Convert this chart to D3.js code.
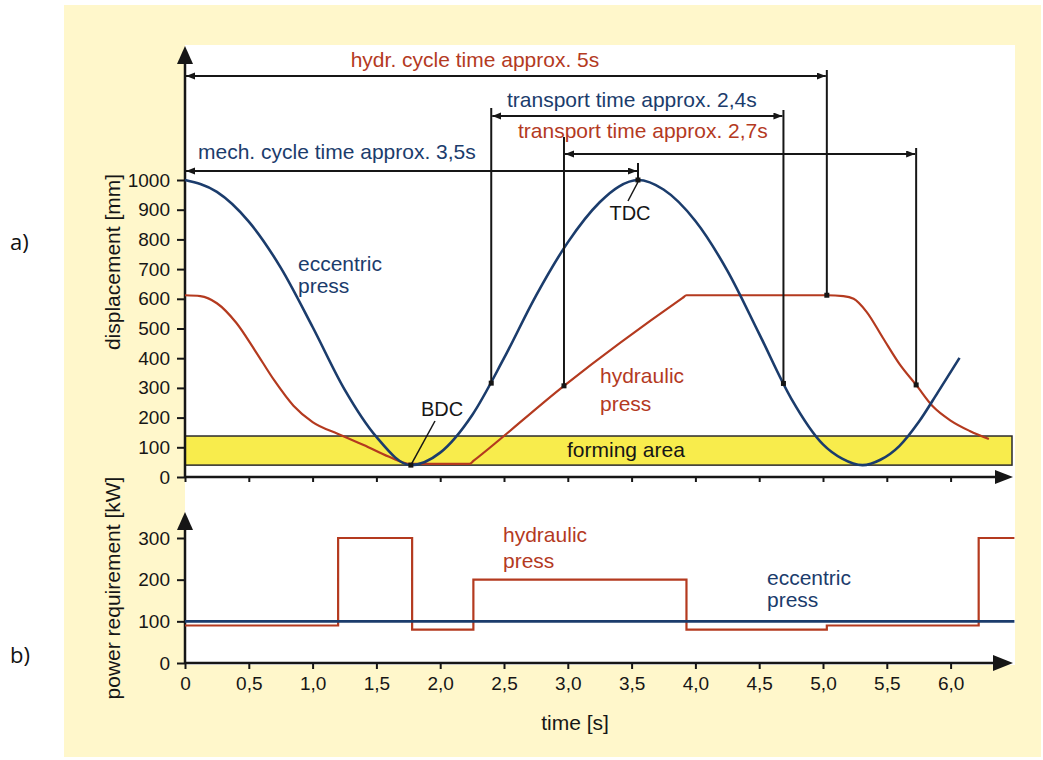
<!DOCTYPE html>
<html>
<head>
<meta charset="utf-8">
<script src="https://cdn.jsdelivr.net/npm/d3@7"></script>
<style>
  body { margin: 0; background: #fff; }
  svg text { font-family: "Liberation Sans", Arial, sans-serif; }
</style>
</head>
<body>
<svg id="chart" width="1043" height="760"></svg>
<script>
// ---- data ----
var timeTicks = [0, 0.5, 1, 1.5, 2, 2.5, 3, 3.5, 4, 4.5, 5, 5.5, 6];
var timeTickLabels = ["0", "0,5", "1,0", "1,5", "2,0", "2,5", "3,0", "3,5", "4,0", "4,5", "5,0", "5,5", "6,0"];
var displacementTicks = [0, 100, 200, 300, 400, 500, 600, 700, 800, 900, 1000];
var powerTicks = [0, 100, 200, 300];

// [time s, displacement mm]
var eccentricDisplacement = [
  [0, 1000], [0.25, 960], [0.5, 860], [0.75, 705], [1.0, 505], [1.25, 295], [1.5, 135], [1.77, 40],
  [2.0, 82], [2.25, 208], [2.5, 400], [2.75, 610], [3.0, 790], [3.25, 925], [3.4, 978], [3.55, 1000],
  [3.75, 968], [4.0, 862], [4.25, 695], [4.5, 482], [4.75, 265], [5.0, 110], [5.15, 62], [5.31, 40],
  [5.45, 58], [5.6, 105], [5.75, 185], [5.9, 285], [6.07, 401]
];
var hydraulicDisplacement = [
  [0, 612], [0.12, 609], [0.25, 585], [0.4, 520], [0.55, 425], [0.7, 325], [0.85, 240],
  [1.0, 185], [1.2, 145], [1.4, 108], [1.6, 68], [1.77, 44], [2.0, 44], [2.23, 44],
  [2.26, 54], [2.97, 307], [3.9, 603], [3.93, 612], [3.96, 612], [5.03, 612], [5.16, 609],
  [5.24, 600], [5.34, 557], [5.47, 468], [5.6, 380], [5.73, 310], [5.86, 238], [6.0, 190],
  [6.15, 155], [6.3, 128]
];
var formingArea = [40, 138];

// [time s, power kW]
var eccentricPower = [[0, 100], [6.5, 100]];
var hydraulicPower = [[0, 90], [1.2, 300], [1.78, 80], [2.26, 200], [3.93, 80], [5.03, 90], [6.22, 300], [6.5, 300]];

// dimension lines (times in s)
var dimLabels = ["hydr. cycle time approx. 5s", "transport time approx. 2,4s", "transport time approx. 2,7s", "mech. cycle time approx. 3,5s"];
var dimFrom = [0, 2.4, 2.97, 0];
var dimTo = [5.03, 4.69, 5.73, 3.55];
var dimPress = ["hydraulic", "eccentric", "hydraulic", "eccentric"];

// marked points on the curves [time s, displacement mm]
var markPoints = [[2.4, 316], [2.97, 307], [4.69, 315], [5.03, 612], [5.73, 310], [3.55, 1000]];

// ---- styling / layout ----
var red = "#b43a1f", blue = "#1b3c6c", ink = "#161616";
var pressColor = { hydraulic: red, eccentric: blue };

var svg = d3.select("#chart");

var x = d3.scaleLinear().domain([0, 6.5]).range([185, 1014.4]);
var yTop = d3.scaleLinear().domain([0, 1000]).range([477, 180]);
var yBot = d3.scaleLinear().domain([0, 300]).range([663, 538]);

// backgrounds
svg.append("rect").attr("x", 64).attr("y", 5).attr("width", 977).attr("height", 752).attr("fill", "#fff7cb");
svg.append("rect").attr("x", 185).attr("y", 45).attr("width", 830).attr("height", 620).attr("fill", "#fff");

svg.append("text").attr("x", 10).attr("y", 250).text("a)")
  .style("font-family", "'Open Sans', sans-serif").style("font-size", "22px").attr("fill", "#111");
svg.append("text").attr("x", 10).attr("y", 663).text("b)")
  .style("font-family", "'Open Sans', sans-serif").style("font-size", "22px").attr("fill", "#111");

var defs = svg.append("defs");
defs.append("marker").attr("id", "dimArrow")
  .attr("markerUnits", "userSpaceOnUse").attr("markerWidth", 10).attr("markerHeight", 8)
  .attr("refX", 9).attr("refY", 3.5).attr("orient", "auto-start-reverse")
  .append("path").attr("d", "M0,0 L9,3.5 L0,7 Z").attr("fill", ink);

// forming area
svg.append("rect")
  .attr("x", 185).attr("y", yTop(formingArea[1]))
  .attr("width", 1012 - 185).attr("height", yTop(formingArea[0]) - yTop(formingArea[1]))
  .attr("fill", "#f8ec4c").attr("stroke", "#2a2a2a").attr("stroke-width", 1.5);
svg.append("text").attr("x", 567).attr("y", 457).text("forming area")
  .style("font-size", "21px").attr("fill", ink);

// ---- axes ----
var axisArrow = function (tipX, tipY, dir, len, half) {
  var p;
  if (dir === "up") p = [[tipX, tipY], [tipX - half, tipY + len], [tipX + half, tipY + len]];
  else p = [[tipX, tipY], [tipX - len, tipY - half], [tipX - len, tipY + half]];
  svg.append("path").attr("d", "M" + p.join("L") + "Z").attr("fill", ink);
};

var styleAxis = function (g) {
  g.select(".domain").remove();
  g.selectAll(".tick line").attr("stroke", ink).attr("stroke-width", 2);
  g.selectAll(".tick text").attr("fill", ink).style("font-size", "19px")
    .style("font-family", "'Liberation Sans', Arial, sans-serif");
};

// top chart
svg.append("g").attr("transform", "translate(0,477)")
  .call(d3.axisBottom(x).tickValues(timeTicks).tickSize(5).tickFormat(""))
  .call(styleAxis);
svg.append("g").attr("transform", "translate(185,0)")
  .call(d3.axisLeft(yTop).tickValues(displacementTicks).tickSize(8).tickPadding(7).tickFormat(d3.format("d")))
  .call(styleAxis);
svg.append("line").attr("x1", 185).attr("x2", 998).attr("y1", 477).attr("y2", 477).attr("stroke", ink).attr("stroke-width", 2.5);
svg.append("line").attr("x1", 185).attr("x2", 185).attr("y1", 478).attr("y2", 60).attr("stroke", ink).attr("stroke-width", 2.5);
axisArrow(1013, 477, "right", 18, 7);
axisArrow(185, 46, "up", 18, 8);

// bottom chart
svg.append("g").attr("transform", "translate(0,663)")
  .call(d3.axisBottom(x).tickValues(timeTicks).tickSize(6).tickPadding(8)
    .tickFormat(function (d, i) { return timeTickLabels[i]; }))
  .call(styleAxis);
svg.append("g").attr("transform", "translate(185,0)")
  .call(d3.axisLeft(yBot).tickValues(powerTicks).tickSize(8).tickPadding(7).tickFormat(d3.format("d")))
  .call(styleAxis);
svg.append("line").attr("x1", 185).attr("x2", 998).attr("y1", 663).attr("y2", 663).attr("stroke", ink).attr("stroke-width", 2.5);
svg.append("line").attr("x1", 185).attr("x2", 185).attr("y1", 664).attr("y2", 525).attr("stroke", ink).attr("stroke-width", 2.5);
axisArrow(1013, 663, "right", 20, 8);
axisArrow(185, 512, "up", 18, 8);

// axis titles
svg.append("text").attr("transform", "translate(120,262) rotate(-90)")
  .attr("text-anchor", "middle").style("font-size", "21px").attr("fill", ink).text("displacement [mm]");
svg.append("text").attr("transform", "translate(120,588) rotate(-90)")
  .attr("text-anchor", "middle").style("font-size", "21px").attr("fill", ink).text("power requirement [kW]");
svg.append("text").attr("x", 575).attr("y", 730).attr("text-anchor", "middle")
  .style("font-size", "21px").attr("fill", ink).text("time [s]");

// ---- curves ----
var lineTop = d3.line()
  .x(function (d) { return x(d[0]); })
  .y(function (d) { return yTop(d[1]); })
  .curve(d3.curveMonotoneX);

var lineBot = d3.line()
  .x(function (d) { return x(d[0]); })
  .y(function (d) { return yBot(d[1]); })
  .curve(d3.curveStepAfter);

svg.append("path").datum(hydraulicDisplacement).attr("d", lineTop)
  .attr("fill", "none").attr("stroke", red).attr("stroke-width", 2.2);
svg.append("path").datum(eccentricDisplacement).attr("d", lineTop)
  .attr("fill", "none").attr("stroke", blue).attr("stroke-width", 2.6);

svg.append("path").datum(hydraulicPower).attr("d", lineBot)
  .attr("fill", "none").attr("stroke", red).attr("stroke-width", 2.2);
svg.append("path").datum(eccentricPower).attr("d", lineBot)
  .attr("fill", "none").attr("stroke", blue).attr("stroke-width", 2.6);

// ---- dimension lines ----
var dimY = [76, 116, 154, 171];
var dimTextX = [475, 507, 518, 198];
var dimTextY = [67, 107, 138, 159];
var dimAnchor = ["middle", "start", "start", "start"];
var vertTop = { 2.4: 108, 2.97: 137, 4.69: 110, 5.03: 70, 5.73: 148, 3.55: 163 };

markPoints.forEach(function (p) {
  svg.append("line")
    .attr("x1", x(p[0])).attr("x2", x(p[0]))
    .attr("y1", vertTop[p[0]]).attr("y2", yTop(p[1]))
    .attr("stroke", ink).attr("stroke-width", 2);
});

dimLabels.forEach(function (label, i) {
  svg.append("line")
    .attr("x1", x(dimFrom[i]) + 1).attr("x2", x(dimTo[i]) - 1)
    .attr("y1", dimY[i]).attr("y2", dimY[i])
    .attr("stroke", ink).attr("stroke-width", 2)
    .attr("marker-start", "url(#dimArrow)").attr("marker-end", "url(#dimArrow)");
  svg.append("text").attr("x", dimTextX[i]).attr("y", dimTextY[i])
    .attr("text-anchor", dimAnchor[i])
    .style("font-size", "21px").attr("fill", pressColor[dimPress[i]]).text(label);
});

// little black dots where the dimension lines meet the curves
svg.selectAll("rect.mark").data(markPoints.concat([[1.77, 40]])).enter()
  .append("rect").attr("class", "mark")
  .attr("x", function (d) { return x(d[0]) - 2.5; })
  .attr("y", function (d) { return yTop(d[1]) - 2.5; })
  .attr("width", 5).attr("height", 5).attr("fill", ink);

// TDC / BDC
svg.append("line").attr("x1", x(3.55)).attr("y1", yTop(1000) + 2).attr("x2", 628).attr("y2", 201)
  .attr("stroke", ink).attr("stroke-width", 1.5);
svg.append("text").attr("x", 630).attr("y", 220).attr("text-anchor", "middle")
  .style("font-size", "20px").attr("fill", ink).text("TDC");
svg.append("line").attr("x1", 435).attr("y1", 421).attr("x2", x(1.77)).attr("y2", yTop(40))
  .attr("stroke", ink).attr("stroke-width", 1.5);
svg.append("text").attr("x", 442).attr("y", 416).attr("text-anchor", "middle")
  .style("font-size", "20px").attr("fill", ink).text("BDC");

// ---- curve labels ----
var curveLabel = function (lines, xPos, yPos, color) {
  lines.forEach(function (t, i) {
    svg.append("text").attr("x", xPos).attr("y", yPos[i])
      .style("font-size", "21px").attr("fill", color).text(t);
  });
};
curveLabel(["eccentric", "press"], 298, [271, 293], blue);
curveLabel(["hydraulic", "press"], 600, [383, 411], red);
curveLabel(["hydraulic", "press"], 503, [542, 568], red);
curveLabel(["eccentric", "press"], 767, [585, 607], blue);
</script>
</body>
</html>
